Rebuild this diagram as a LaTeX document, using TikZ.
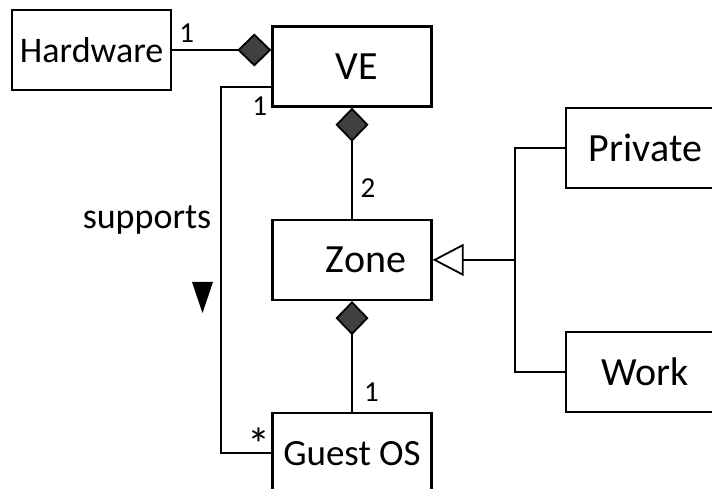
\documentclass[tikz,border=0pt]{standalone}
\usepackage{fontspec}
\setmainfont{Carlito}
\usepackage{tikz}
\usetikzlibrary{positioning}
\usetikzlibrary{arrows.meta}
\definecolor{diafill}{HTML}{404040}
\tikzstyle{box} = [rectangle, draw, line width=2.4pt, minimum width=159pt,
minimum height=80pt, inner sep=0pt, font=\fontsize{40}{48}\selectfont]
\tikzstyle{line} = [draw, line width=1.8pt]
\tikzstyle{composition} = [line, -{Diamond[length=34pt,width=33pt,fill=diafill]}]
\tikzstyle{genline} = [line, -{Triangle[open,length=31pt,width=32pt,fill=white]}]
\tikzstyle{mult} = [inner sep=0pt, anchor=base, font=\fontsize{29}{35}\selectfont]

\begin{document}
\begin{tikzpicture}[x=1pt, y=1pt]
  \useasboundingbox (0,0) rectangle (712,489);
  \clip (0,0) rectangle (712,489);

          % Place nodes
    \node [box] (ve) at (352,422.5) {\hspace*{10pt}VE};
    \node [box, left=99pt of ve, yshift=16.5pt, font=\fontsize{36}{43}\selectfont] (hw) {Hardware};
    \node [box, below=111pt of ve] (zone) {\hspace*{28pt}Zone};
    \node [box, below=111pt of zone, font=\fontsize{37}{44}\selectfont] (gos) {Guest OS};
    \node [box, right=132pt of zone, yshift=112pt] (priv) {Private};
    \node [box, right=132pt of zone, yshift=-112pt] (work) {Work};
    \coordinate [right=82.5pt of zone.east] (fork);
    % multiplicities
    \node [mult] (m1) at ([shift={(14.5,7)}]hw.east) {1};
    \node [mult] (m2) at ([shift={(-11.5,-8)}]ve.south west) {1};
    \node [mult] (m3) at ([shift={(16,21)}]zone.north) {2};
    \node [mult] (m4) at ([shift={(19.5,11)}]gos.north) {1};
    \node [mult, font=\fontsize{46}{52}\selectfont] (m5) at ([shift={(-12.5,-7)}]gos.west) {*};
    \node [mult, font=\fontsize{36}{43}\selectfont] (supp) at (147,260) {supports};
    \fill [black] (192,207) -- (213,207) -- (202.5,176) -- cycle;
    % edges
         \path [composition] (hw.east) -- (hw.east -| ve.west);
         \path [composition] (zone) -- (ve);
         \path [composition] (gos) -- (zone);
         \path [line] ([yshift=-20.5pt]ve.west) -| ([xshift=-50.5pt]gos.west) -- (gos.west);
         \path [genline] (fork) -- (zone.east);
         \path [line] (priv.west) -| (fork) |- (work.west);
  \end{tikzpicture}
\end{document}
